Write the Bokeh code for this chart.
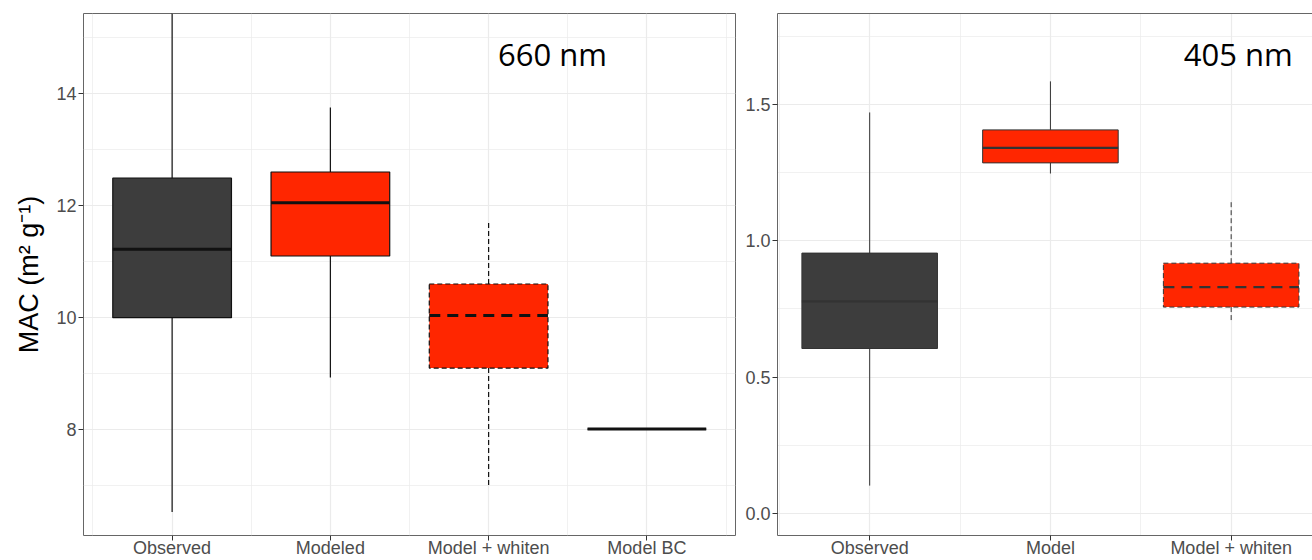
from bokeh.plotting import figure
from bokeh.models import Range1d, FixedTicker, Label, LinearAxis, ColumnDataSource, PrintfTickFormatter
from bokeh.layouts import row
from bokeh.embed import file_html
from bokeh.resources import INLINE

# ---------------- data: 660 nm panel ----------------
categories_660 = ["Observed", "Modeled", "Model + whiten", "Model BC"]
lower_660 = [6.52, 8.92, 6.98, 8.0]
q1_660 = [9.99, 11.09, 9.09, 8.0]
median_660 = [11.21, 12.04, 10.03, 8.0]
q3_660 = [12.48, 12.59, 10.59, 8.0]
upper_660 = [16.2, 13.74, 11.71, 8.0]
yticks_660 = [8, 10, 12, 14]

# ---------------- data: 405 nm panel ----------------
categories_405 = ["Observed", "Model", "Model + whiten"]
lower_405 = [0.102, 1.247, 0.699]
q1_405 = [0.605, 1.286, 0.757]
median_405 = [0.778, 1.341, 0.830]
q3_405 = [0.955, 1.407, 0.918]
upper_405 = [1.471, 1.585, 1.145]
yticks_405 = [0.0, 0.5, 1.0, 1.5]

# styling per category
fill_660 = ["#3d3d3d", "#ff2600", "#ff2600", "#3d3d3d"]
dashed_660 = [False, False, True, False]
fill_405 = ["#3d3d3d", "#ff2600", "#ff2600"]
dashed_405 = [False, False, True]

BOX_W = 0.75
GRID = "#ebebeb"
TICK_FONT = "Liberation Sans"
H = 560


def draw_boxes(p, cats, lower, q1, med, q3, upper, fills, dashed, lc, med_w, lw):
    xs = list(range(1, len(cats) + 1))
    for flag in (False, True):
        idx = [i for i in range(len(cats)) if dashed[i] == flag]
        if not idx:
            continue
        src = ColumnDataSource(dict(
            x=[xs[i] for i in idx],
            x0=[xs[i] - BOX_W / 2 for i in idx],
            x1=[xs[i] + BOX_W / 2 for i in idx],
            lo=[lower[i] for i in idx],
            q1=[q1[i] for i in idx],
            med=[med[i] for i in idx],
            q3=[q3[i] for i in idx],
            up=[upper[i] for i in idx],
            fill=[fills[i] for i in idx],
        ))
        dash = "5 3" if flag else "solid"
        mdash = "11 7" if flag else "solid"
        p.segment(x0="x", x1="x", y0="q3", y1="up", source=src,
                  line_color=lc, line_width=lw, line_dash=dash)
        p.segment(x0="x", x1="x", y0="q1", y1="lo", source=src,
                  line_color=lc, line_width=lw, line_dash=dash)
        p.vbar(x="x", width=BOX_W, bottom="q1", top="q3", source=src,
               fill_color="fill", line_color=lc, line_width=lw, line_dash=dash)
        p.segment(x0="x0", x1="x1", y0="med", y1="med", source=src,
                  line_color=lc, line_width=med_w, line_dash=mdash)
    return xs


def style_axes(p, xs, cats, yticks, ymin_ticks):
    p.xaxis.ticker = FixedTicker(ticks=xs, minor_ticks=[x - 0.5 for x in xs] + [xs[-1] + 0.5])
    p.xaxis.major_label_overrides = {x: c for x, c in zip(xs, cats)}
    p.yaxis.ticker = FixedTicker(ticks=yticks, minor_ticks=ymin_ticks)
    for ax in (p.xaxis[0], p.yaxis[0]):
        ax.major_tick_out = 5
        ax.major_tick_in = 0
        ax.minor_tick_out = 0
        ax.minor_tick_in = 0
        ax.major_tick_line_color = "#333333"
        ax.major_label_text_font = TICK_FONT
        ax.major_label_text_font_size = "18px"
        ax.major_label_text_color = "#4d4d4d"
    p.xaxis.major_label_standoff = -3
    p.yaxis.major_label_standoff = 2
    for g in (p.xgrid[0], p.ygrid[0]):
        g.grid_line_color = GRID
        g.grid_line_width = 1.2
        g.minor_grid_line_color = GRID
        g.minor_grid_line_width = 0.7
    p.background_fill_color = "white"
    p.border_fill_color = "white"


# ---------------- left figure ----------------
p1 = figure(width=740, height=H, x_range=Range1d(0.44, 4.56), y_range=Range1d(6.10, 15.42),
            output_backend="svg", toolbar_location=None,
            min_border_left=83, min_border_right=5, min_border_top=13, min_border_bottom=0)
xs1 = draw_boxes(p1, categories_660, lower_660, q1_660, median_660, q3_660, upper_660,
                 fill_660, dashed_660, "#111111", 3.0, 1.2)
style_axes(p1, xs1, categories_660, yticks_660, [7, 9, 11, 13, 15])
p1.outline_line_color = "#666666"
p1.outline_line_width = 1
p1.xaxis.axis_line_color = None
p1.yaxis.axis_line_color = None
p1.yaxis.axis_label = "MAC (m² g⁻¹)"
p1.yaxis.axis_label_text_font = TICK_FONT
p1.yaxis.axis_label_text_font_size = "27px"
p1.yaxis.axis_label_text_font_style = "normal"
p1.yaxis.axis_label_text_color = "black"
p1.yaxis.axis_label_standoff = 9
p1.add_layout(Label(x=3.06, y=14.69, text="660 nm", text_font="Open Sans",
                    text_font_size="31px", text_color="black",
                    text_align="left", text_baseline="alphabetic"))

# ---------------- right figure ----------------
p2 = figure(width=572, height=H, x_range=Range1d(0.49, 3.45), y_range=Range1d(-0.081, 1.834),
            output_backend="svg", toolbar_location=None,
            min_border_left=37, min_border_right=0, min_border_top=13, min_border_bottom=0)
xs2 = draw_boxes(p2, categories_405, lower_405, q1_405, median_405, q3_405, upper_405,
                 fill_405, dashed_405, "#333333", 2.2, 1.0)
style_axes(p2, xs2, categories_405, yticks_405, [0.25, 0.75, 1.25, 1.75])
p2.yaxis.formatter = PrintfTickFormatter(format="%.1f")
p2.outline_line_color = None
p2.xaxis.axis_line_color = "#666666"
p2.yaxis.axis_line_color = "#666666"
top_axis = LinearAxis(ticker=FixedTicker(ticks=[]), major_label_standoff=0,
                      major_tick_out=0, major_tick_in=0, minor_tick_out=0, minor_tick_in=0,
                      axis_line_color="#666666")
p2.add_layout(top_axis, "above")
p2.add_layout(Label(x=2.738, y=1.685, text="405 nm", text_font="Open Sans",
                    text_font_size="31px", text_color="black",
                    text_align="left", text_baseline="alphabetic"))

layout = row(p1, p2)
open("out.html", "w").write(file_html(layout, INLINE))
